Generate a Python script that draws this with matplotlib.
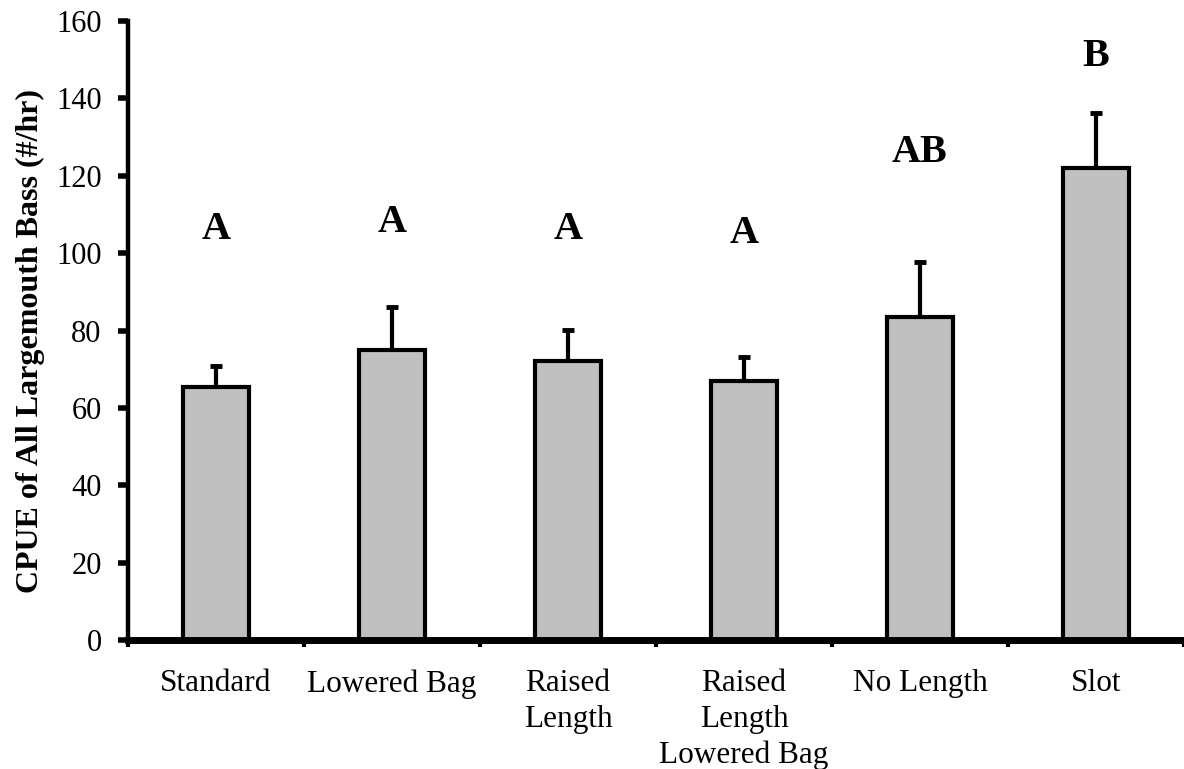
import matplotlib
matplotlib.use("Agg")
import matplotlib.pyplot as plt
import numpy as np

# values
categories = ["Standard", "Lowered Bag", "Raised\nLength", "Raised\nLength\nLowered Bag",
              "No Length", "Slot"]
cpue = [65.4, 75.0, 72.1, 66.9, 83.5, 122.0]
se = [5.4, 11.1, 8.0, 6.2, 14.2, 14.2]
letters = ["A", "A", "A", "A", "AB", "B"]
letter_y = [106, 107.8, 106, 105, 126, 150.7]

plt.rcParams["font.family"] = ["Liberation Serif", "DejaVu Serif"]

fig = plt.figure(figsize=(11.84, 7.69), dpi=100)
ax = fig.add_axes([128 / 1184, 129 / 769, 1056 / 1184, 619 / 769])

x = np.arange(len(categories))
ax.bar(x, cpue, width=0.38, color="#c0c0c0", edgecolor="black", linewidth=3, zorder=2)
ax.errorbar(x, cpue, yerr=[np.zeros(len(se)), se], fmt="none", ecolor="black",
            elinewidth=3, capsize=4.5, capthick=3.5, zorder=1)

for xi, lab, ly in zip(x, letters, letter_y):
    ax.text(xi, ly, lab, ha="center", va="center", fontsize=29, fontweight="bold")

ax.set_xlim(-0.5, len(categories) - 0.5)
ax.set_ylim(0, 160)
ax.set_yticks(np.arange(0, 161, 20))
ax.set_xticks(x)
ax.set_xticklabels(categories, fontsize=22.5, linespacing=1.3)
ax.set_xticks(np.arange(-0.5, len(categories), 1), minor=True)
ax.tick_params(axis="x", which="major", length=0, pad=21)
ax.tick_params(axis="x", which="minor", length=5, width=3, direction="out")
ax.tick_params(axis="y", which="major", length=7, width=4, direction="out",
               labelsize=22, pad=12)

ax.spines["top"].set_visible(False)
ax.spines["right"].set_visible(False)
ax.spines["left"].set_linewidth(3.2)
ax.spines["bottom"].set_linewidth(5)
ax.spines["bottom"].set_zorder(3)

ax.set_ylabel("CPUE of All Largemouth Bass (#/hr)", fontsize=23, fontweight="bold")
ax.yaxis.set_label_coords(-0.079, 0.483)

fig.savefig("out.png", dpi=100)
